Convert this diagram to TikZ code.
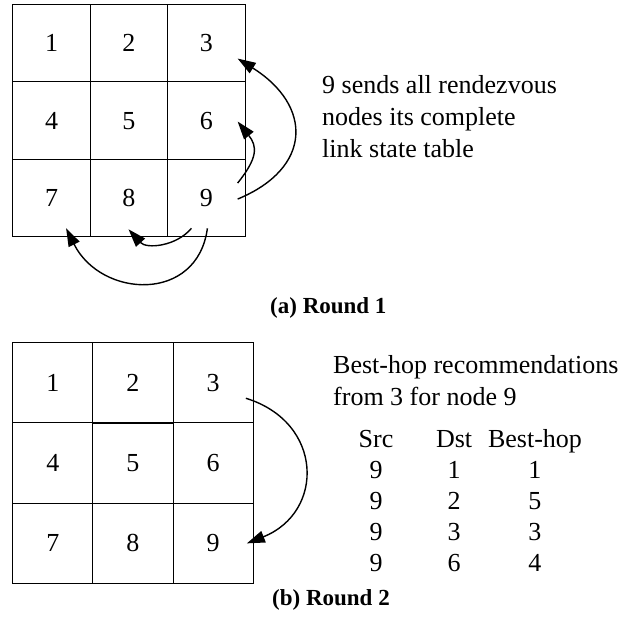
\documentclass[tikz,border=0pt]{standalone}
\usepackage{fontspec}
\setmainfont{Liberation Serif}
\usetikzlibrary{matrix, arrows.meta}

\tikzset{
    cellbox/.style={draw, line width=1.1pt, inner sep=0pt, minimum size=#1, font=\fontsize{26pt}{32pt}\selectfont},
    hop/.style={line width=1.4pt, -{Triangle[length=18pt,width=12pt]}},
    note/.style={align=left, inner sep=0pt, font=\fontsize{26pt}{32pt}\selectfont},
    tabcell/.style={inner sep=0pt, minimum width=78pt, text height=19pt, text depth=6pt, font=\fontsize{26pt}{32pt}\selectfont},
    caption/.style={inner sep=0pt, font=\fontsize{23pt}{28pt}\selectfont\bfseries},
}

\begin{document}
\begin{tikzpicture}[x=1pt, y=-1pt]
    \useasboundingbox (0,0) rectangle (625,619);
    % (a) round 1
	\matrix (A) at (129,120.5) [matrix of nodes, inner sep=0pt, nodes={cellbox=77.4pt}, column sep=-1.1pt, row sep=-1.1pt]
	{
        1 & 2 & 3 \\
        4 & 5 & 6 \\
        7 & 8 & 9 \\
	};
    \draw[hop] ([shift={(-8,1)}]A-3-3.east) .. controls +(75,-31) and +(75,47) .. ([shift={(-8,15.5)}]A-1-3.east);
    \draw[hop] ([shift={(-8,-15)}]A-3-3.east) .. controls +(20,-25) and +(20,25) .. ([shift={(-8,1)}]A-2-3.east);
    \draw[hop] ([shift={(-15,-9)}]A-3-3.south) .. controls +(-15,18) and +(18,20) .. ([shift={(-0.5,-8)}]A-3-2.south);
    \draw[hop] ([shift={(1,-9)}]A-3-3.south) .. controls +(-10,75) and +(35,70) .. ([shift={(14.5,-9)}]A-3-1.south);
    \node[note, anchor=base west] (send) at (322,157) {9 sends all rendezvous\\nodes its complete\\link state table};
    \node[caption, anchor=base west] (capa) at (270,313) {(a) Round 1};
    % (b) round 2
	\matrix (B) at (133,463) [matrix of nodes, inner sep=0pt, nodes={cellbox=80.2pt}, column sep=-1.1pt, row sep=-1.1pt]
	{
        1 & 2 & 3 \\
        4 & 5 & 6 \\
        7 & 8 & 9 \\
	};
    \draw[hop] ([shift={(-8,15.5)}]B-1-3.east) .. controls +(78,24) and +(78,-31) .. ([shift={(-7,0)}]B-3-3.east);
    \node[note, anchor=base west] (rec) at (333,405) {Best-hop recommendations\\from 3 for node 9};
	\matrix (T) at (459.5,428) [matrix of nodes, anchor=north, inner sep=0pt, nodes={tabcell}, row sep=6pt]
	{
        Src & Dst &[-5pt] Best-hop \\
        9 & 1 & 1 \\
        9 & 2 & 5 \\
        9 & 3 & 3 \\
        9 & 6 & 4 \\
	};
    \node[caption, anchor=base west] (capb) at (272,605) {(b) Round 2};
\end{tikzpicture}
\end{document}
